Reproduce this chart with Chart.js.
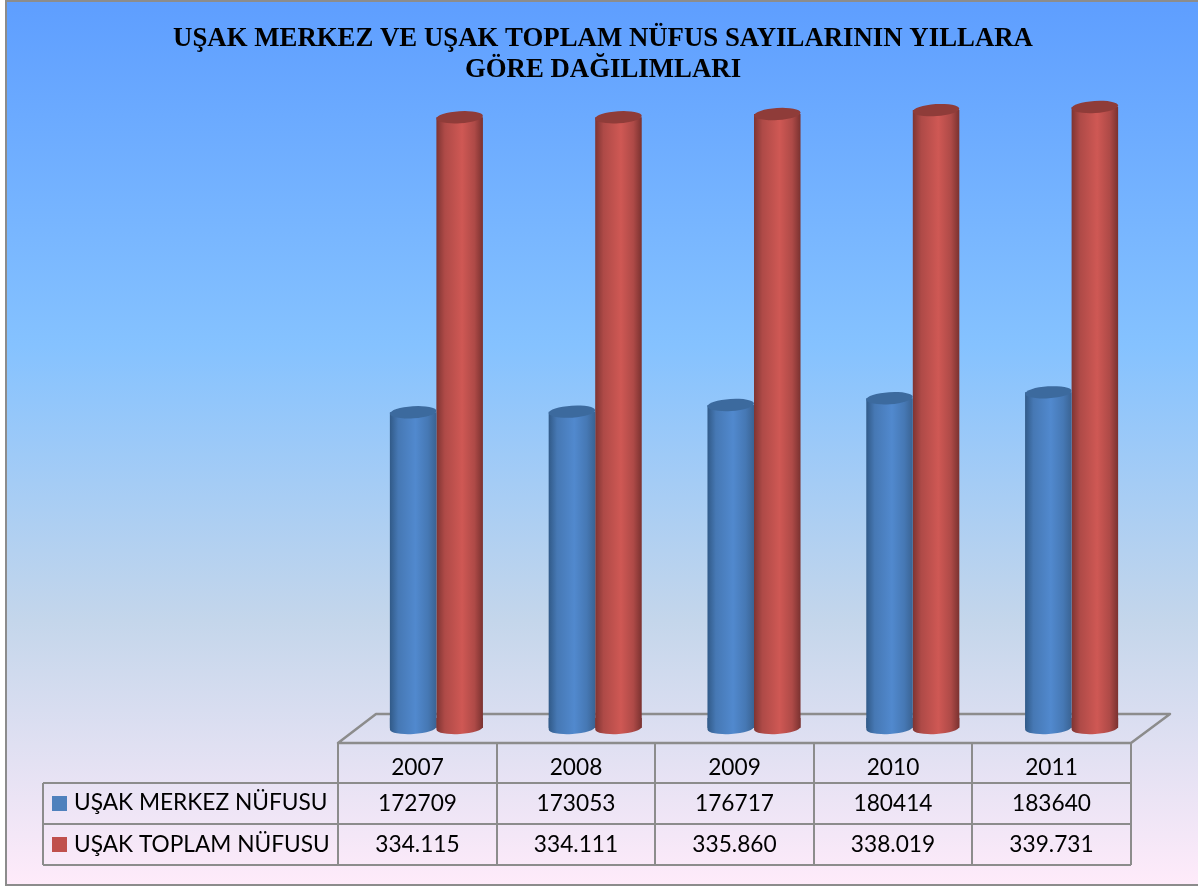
<!DOCTYPE html>
<html><head><meta charset="utf-8">
<style>html,body{margin:0;padding:0;background:#fff;overflow:hidden;width:1198px;height:886px}canvas{display:block}</style>
<script src="https://cdn.jsdelivr.net/npm/chart.js@4"></script></head>
<body><canvas id="c" width="1206" height="886"></canvas>
<script>
const titleLines = ["UŞAK MERKEZ VE UŞAK TOPLAM NÜFUS SAYILARININ YILLARA", "GÖRE DAĞILIMLARI"];
const years = ["2007", "2008", "2009", "2010", "2011"];
const merkezLabel = "UŞAK MERKEZ NÜFUSU";
const toplamLabel = "UŞAK TOPLAM NÜFUSU";
const merkez = [172709, 173053, 176717, 180414, 183640];
const toplam = [334115, 334111, 335860, 338019, 339731];
const merkezText = ["172709", "173053", "176717", "180414", "183640"];
const toplamText = ["334.115", "334.111", "335.860", "338.019", "339.731"];

const GROUP = 0.586;
function paint(g,s){
  g.addColorStop(0,s[0]);g.addColorStop(.18,s[1]);g.addColorStop(.55,s[2]);g.addColorStop(.82,s[1]);g.addColorStop(1,s[3]);
  return g;
}
function cyl(stops){
  return ctx=>{
    const ch=ctx.chart, xs=ch.scales.x;
    if(!ch.chartArea||!xs) return stops[2];
    const i=ctx.dataIndex, cw=xs.width/years.length, w=cw*GROUP/2;
    const x0=xs.getPixelForValue(i)-w+ctx.datasetIndex*w;
    return paint(ch.ctx.createLinearGradient(x0,0,x0+w,0),stops);
  };
}
const blueStops=["#315A88","#4678B4","#5189CE","#3A6393"];
const redStops=["#7E3432","#AE4A47","#CF5854","#7A3230"];
const topCols=["#3C6A9E","#8F3C39"];
const swatch=["#4F81BD","#C0504D"];
const grid="#8C8C8C";

const deco={
  id:"deco",
  beforeDraw(ch){
    const c=ch.ctx;
    const g=c.createLinearGradient(0,0,0,886);
    g.addColorStop(0,"#5E9EFF");g.addColorStop(.39,"#85C2FF");g.addColorStop(.7,"#C4D6EB");g.addColorStop(1,"#FFEBFA");
    c.fillStyle="#fff";c.fillRect(0,0,1206,886);
    c.fillStyle=g;c.fillRect(6,2,1200,883);
    c.strokeStyle="#8C8C8C";c.lineWidth=2;
    c.beginPath();c.moveTo(1206,1);c.lineTo(6,1);c.lineTo(6,885);c.lineTo(1206,885);c.stroke();
  },
  beforeDatasetsDraw(ch){
    const c=ch.ctx;
    c.save();c.strokeStyle=grid;c.lineWidth=2.5;c.lineJoin="round";
    c.beginPath();c.moveTo(338,743);c.lineTo(376,714);c.lineTo(1170,714);c.lineTo(1131,743);c.closePath();c.stroke();
    c.restore();
  },
  afterDatasetsDraw(ch){
    const c=ch.ctx;
    ch.data.datasets.forEach((d,di)=>{
      ch.getDatasetMeta(di).data.forEach(b=>{
        const rx=b.width/2, ry=6, tilt=-0.065;
        // bottom rim, closed upward into the bar so no seam shows
        c.save();c.beginPath();c.ellipse(b.x,b.base,rx,ry,tilt,0,Math.PI);
        c.lineTo(b.x-rx,b.base-10);c.lineTo(b.x+rx,b.base-10);c.closePath();
        c.fillStyle=paint(c.createLinearGradient(b.x-rx,0,b.x+rx,0),di?redStops:blueStops);c.fill();c.restore();
        // top cap
        c.save();c.beginPath();c.ellipse(b.x,b.y,rx,ry,tilt,0,Math.PI*2);c.fillStyle=topCols[di];c.fill();c.restore();
      });
    });
  },
  afterDraw(ch){
    const c=ch.ctx;
    const xs=[338,497,655,814,972,1131], lx=43;
    c.save();c.strokeStyle=grid;c.lineWidth=2;
    c.beginPath();
    c.moveTo(338,743);c.lineTo(1131,743);
    c.moveTo(lx,783);c.lineTo(1131,783);
    c.moveTo(lx,824);c.lineTo(1131,824);
    c.moveTo(lx,865);c.lineTo(1131,865);
    c.moveTo(lx,783);c.lineTo(lx,865);
    xs.forEach(x=>{c.moveTo(x,743);c.lineTo(x,865);});
    c.stroke();
    c.fillStyle="#000";c.font='22.7px Lato';c.textBaseline="middle";c.textAlign="center";
    years.forEach((y,i)=>{
      const cx=(xs[i]+xs[i+1])/2;
      c.fillText(y,cx,768);c.fillText(merkezText[i],cx,804);c.fillText(toplamText[i],cx,845);
    });
    c.textAlign="left";
    c.fillText(merkezLabel,74,803);c.fillText(toplamLabel,74,845);
    c.fillStyle=swatch[0];c.fillRect(52,796,15,15);
    c.fillStyle=swatch[1];c.fillRect(52,837,15,15);
    c.restore();
  }
};

new Chart(document.getElementById("c"),{
  type:"bar",
  data:{labels:years,datasets:[
    {label:merkezLabel,data:merkez,backgroundColor:cyl(blueStops),borderWidth:0},
    {label:toplamLabel,data:toplam,backgroundColor:cyl(redStops),borderWidth:0}
  ]},
  options:{
    responsive:false,animation:false,
    categoryPercentage:GROUP,barPercentage:1,
    layout:{padding:0},
    scales:{
      x:{display:true,offset:true,grid:{display:false},border:{display:false},ticks:{display:false},afterFit(s){s.height=158;}},
      y:{display:true,position:"left",min:0,max:350100,grid:{display:false},border:{display:false},ticks:{display:false},afterFit(s){s.width=357;}},
      yr:{display:true,position:"right",min:0,max:350100,grid:{display:false},border:{display:false},ticks:{display:false},afterFit(s){s.width=55;}}
    },
    plugins:{
      legend:{display:false},
      tooltip:{enabled:false},
      title:{display:true,text:titleLines,color:"#000",
        font:{family:"'Liberation Serif'",size:26.8,weight:"bold",lineHeight:1.157},
        padding:{top:23.5,bottom:2.5}}
    }
  },
  plugins:[deco]
});
</script></body></html>
